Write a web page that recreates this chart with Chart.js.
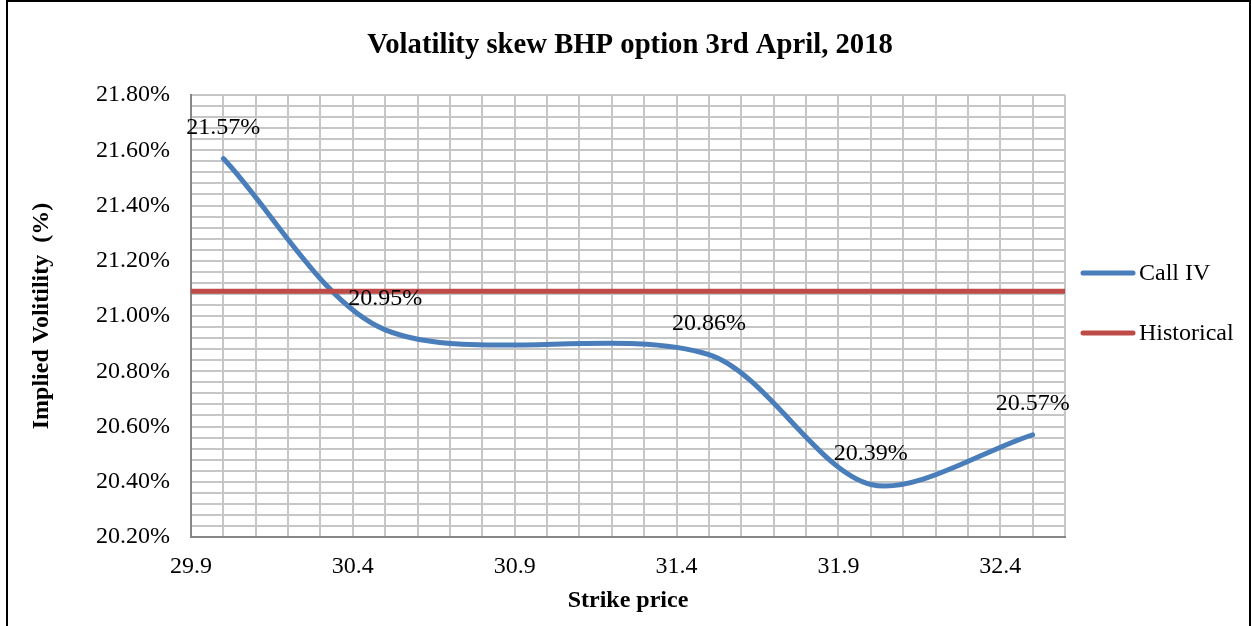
<!DOCTYPE html>
<html>
<head>
<meta charset="utf-8">
<script src="https://cdn.jsdelivr.net/npm/chart.js@4.4.1/dist/chart.umd.min.js"></script>
<style>
  html, body { margin: 0; padding: 0; background: #fff; overflow: hidden; }
  #wrap { position: relative; width: 1252px; height: 626px; }
  #frame { position: absolute; left: 6px; top: 0; width: 1241px; height: 700px; border: 2px solid #000; pointer-events: none; }
</style>
</head>
<body>
<div id="wrap">
  <canvas id="skew" width="1252" height="626"></canvas>
  <div id="frame"></div>
</div>
<script>
// strike prices and implied vols (%)
const strikes = [30.0, 30.5, 31.5, 32.0, 32.5];
const callIV = [21.57, 20.95, 20.86, 20.39, 20.57];
// historical vol is flat across the whole axis
const histStrikes = [29.9, 32.6];
const histIV = [21.09, 21.09];

const xTickLabels = ['29.9', '30.4', '30.9', '31.4', '31.9', '32.4'];
const yTickLabels = ['20.20%', '20.40%', '20.60%', '20.80%', '21.00%', '21.20%', '21.40%', '21.60%', '21.80%'];

const serif = '"Liberation Serif", "Times New Roman", serif';
const gridColor = '#c6c6c6';
const axisColor = '#868686';

const pointLabels = {
  id: 'pointLabels',
  afterDatasetsDraw(chart) {
    const ctx = chart.ctx;
    const meta = chart.getDatasetMeta(0);
    ctx.save();
    ctx.font = '24px ' + serif;
    ctx.fillStyle = '#000';
    ctx.textAlign = 'center';
    ctx.textBaseline = 'middle';
    meta.data.forEach((pt, i) => {
      ctx.fillText(callIV[i].toFixed(2) + '%', pt.x, pt.y - 31);
    });
    ctx.restore();
  }
};

// legend drawn beside the plot, excel style
const sideLegend = {
  id: 'sideLegend',
  afterDraw(chart) {
    const {ctx, chartArea} = chart;
    ctx.save();
    ctx.font = '24px ' + serif;
    ctx.textBaseline = 'middle';
    ctx.textAlign = 'left';
    chart.data.datasets.forEach((ds, i) => {
      const y = 273 + i * 60;
      const x0 = chartArea.right + 18;
      ctx.strokeStyle = ds.borderColor;
      ctx.lineWidth = 5;
      ctx.lineCap = 'round';
      ctx.beginPath();
      ctx.moveTo(x0, y);
      ctx.lineTo(x0 + 50, y);
      ctx.stroke();
      ctx.fillStyle = '#000';
      ctx.fillText(ds.label, x0 + 56, y + 1);
    });
    ctx.restore();
  }
};

const ctx = document.getElementById('skew').getContext('2d');

new Chart(ctx, {
  type: 'scatter',
  data: {
    datasets: [
      {
        label: 'Call IV',
        data: strikes.map((s, i) => ({x: s, y: callIV[i]})),
        showLine: true,
        borderColor: '#4a7ebb',
        backgroundColor: '#4a7ebb',
        borderWidth: 5,
        borderCapStyle: 'round',
        tension: 0.3,
        pointRadius: 0,
        order: 1
      },
      {
        label: 'Historical',
        data: histStrikes.map((s, i) => ({x: s, y: histIV[i]})),
        showLine: true,
        borderColor: '#be4b48',
        backgroundColor: '#be4b48',
        borderWidth: 5,
        pointRadius: 0,
        order: 0
      }
    ]
  },
  options: {
    responsive: false,
    animation: false,
    devicePixelRatio: 1,
    layout: { padding: { left: 8, right: 0, top: 0, bottom: 0 } },
    plugins: {
      legend: { display: false },
      tooltip: { enabled: false },
      title: {
        display: true,
        text: 'Volatility skew BHP option 3rd April, 2018',
        color: '#000',
        font: { family: serif, size: 28.7, weight: 'bold' },
        padding: { top: 28, bottom: 32.6 }
      }
    },
    scales: {
      x: {
        type: 'linear',
        min: 29.9,
        max: 32.6,
        afterFit: (scale) => { scale.height = 89; },
        grid: { color: gridColor, lineWidth: 2, drawTicks: false },
        border: { color: axisColor, width: 2 },
        ticks: {
          stepSize: 0.1,
          autoSkip: false,
          maxRotation: 0,
          padding: 15,
          color: '#000',
          font: { family: serif, size: 24 },
          callback: (v) => {
            const s = Number(v).toFixed(1);
            return xTickLabels.includes(s) ? s : '';
          }
        },
        title: {
          display: true,
          text: 'Strike price',
          color: '#000',
          font: { family: serif, size: 24, weight: 'bold' },
          padding: { top: 0, bottom: 10.6 }
        }
      },
      y: {
        min: 20.2,
        max: 21.8,
        afterFit: (scale) => { scale.width = 183; },
        grid: { color: gridColor, lineWidth: 2, drawTicks: false },
        border: { color: axisColor, width: 2 },
        ticks: {
          stepSize: 0.04,
          autoSkip: false,
          padding: 21,
          color: '#000',
          font: { family: serif, size: 24 },
          callback: (v) => {
            const s = Number(v).toFixed(2) + '%';
            return yTickLabels.includes(s) ? s : '';
          }
        },
        title: {
          display: true,
          text: 'Implied Volitility  (%)',
          color: '#000',
          font: { family: serif, size: 24, weight: 'bold' },
          padding: { top: 19, bottom: 0 }
        }
      },
      // empty right axis that keeps room for the legend
      side: {
        position: 'right',
        display: true,
        afterFit: (scale) => { scale.width = 187; },
        grid: { display: false },
        border: { display: false },
        ticks: { display: false }
      }
    }
  },
  plugins: [pointLabels, sideLegend]
});
</script>
</body>
</html>
